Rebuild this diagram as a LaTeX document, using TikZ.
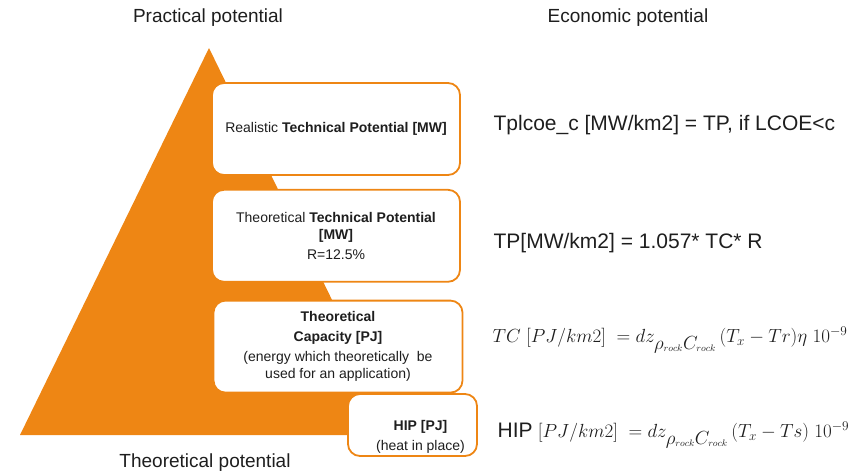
\documentclass[tikz,border=0pt]{standalone}
\usepackage{fix-cm}
\usepackage{fontspec}
\setmainfont{Liberation Sans}
\usepackage{xcolor}
\usetikzlibrary{positioning}

\definecolor{potorange}{RGB}{238,134,20}
\definecolor{textgray}{RGB}{30,30,30}

\begin{document}
\begin{tikzpicture}[x=1pt, y=-1pt, semithick, align=center]

    \tikzstyle{potbox}=[draw=potorange, line width=1.8pt, rounded corners=12pt, fill=white, text=textgray, font=\fontsize{14}{17}\selectfont]
    \tikzstyle{headline}=[text=textgray, font=\fontsize{19}{23}\selectfont]
    \tikzstyle{formula}=[anchor=west, text=textgray, font=\fontsize{21}{25}\selectfont]
    \tikzstyle{mathformula}=[anchor=west, text=textgray, font=\fontsize{19}{23}\selectfont]

    \useasboundingbox (0,0) rectangle (861,472);

    % pyramid
    \fill[potorange] (209,48) -- (398,435) -- (20,435) -- cycle;

    \node[potbox, minimum width=248pt, minimum height=92pt] (rtp) at (336,129) {Realistic \textbf{Technical Potential [MW]}};
    \node[potbox, minimum width=248pt, minimum height=92pt] (ttp) [below=13pt of rtp] {Theoretical \textbf{Technical Potential}\\ \textbf{[MW]}\\[3pt] R=12.5\%};
    \node[potbox, minimum width=249pt, minimum height=92pt] (tc) [below=17pt of ttp, xshift=2pt] {\textbf{Theoretical}\\[3pt] \textbf{Capacity [PJ]}\\[3pt] (energy which theoretically\ \ be\\ used for an application)};
    \node[potbox, minimum width=129pt, minimum height=62pt] (hip) at (412.5,425) {};
    \node[text=textgray, font=\fontsize{14}{17}\selectfont] (hiptext) at ([xshift=8pt, yshift=-12pt]hip.center) {\textbf{HIP [PJ]}\\[3pt] (heat in place)};

    \node[headline] (practical) at (208,18) {Practical potential};
    \node[headline] (economic) at (628,18) {Economic potential};
    \node[headline] (theoretical) at (205,463) {Theoretical potential};

    \node[formula] (tplf) at (490,125) {Tplcoe\_c [MW/km2] = TP, if LCOE<c};
    \node[formula] (tpf) at (490,243) {TP[MW/km2] = 1.057* TC* R};
    \node[mathformula] (tcf) at (489,340) {$TC\ [PJ/km2]\ = dz_{\textstyle\rho_{\scriptscriptstyle rock}C_{\scriptscriptstyle rock}}\,(T_x-Tr)\eta\ 10^{-9}$};
    \node[mathformula] (hipf) at (494,435) {{\fontsize{21}{25}\selectfont HIP} $[PJ/km2]\ = dz_{\textstyle\rho_{\scriptscriptstyle rock}C_{\scriptscriptstyle rock}}\,(T_x-Ts)\ 10^{-9}$};
\end{tikzpicture}
\end{document}
